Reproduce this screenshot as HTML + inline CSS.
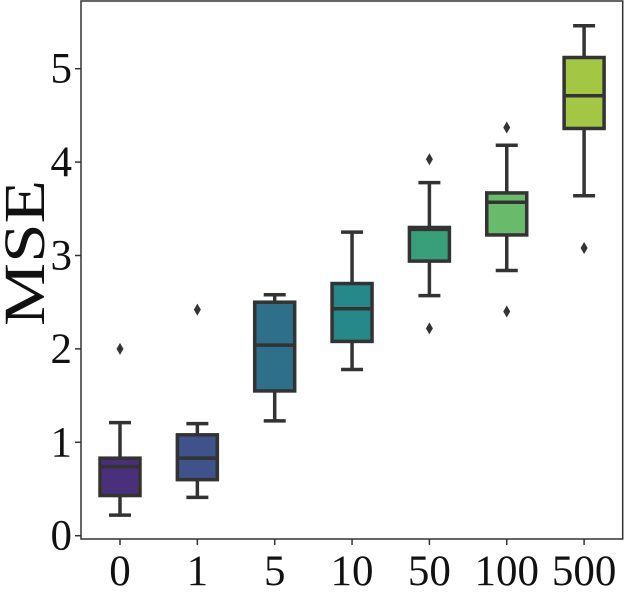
<!DOCTYPE html>
<html><head><meta charset="utf-8"><style>
html,body{margin:0;padding:0;background:#fff;}
svg text{font-family:"Liberation Serif","DejaVu Serif",serif;fill:#111;}
</style></head><body>
<svg id="chart" width="633" height="590" xmlns="http://www.w3.org/2000/svg">
<g id="plot"></g>
</svg>
<script>
const categories = ["0","1","5","10","50","100","500"];
const whiskerLow = [0.22,0.41,1.23,1.78,2.57,2.84,3.64];
const q1 = [0.43,0.60,1.55,2.08,2.94,3.22,4.36];
const medians = [0.74,0.83,2.04,2.43,3.28,3.57,4.71];
const q3 = [0.83,1.08,2.50,2.70,3.30,3.67,5.12];
const whiskerHigh = [1.21,1.20,2.58,3.25,3.78,4.18,5.46];
const outliers = [[2.0],[2.42],[],[],[4.03,2.22],[4.37,2.40],[3.08]];
const colors = ["#4a2f7a","#3f5289","#2e6f8a","#27888a","#389f7a","#69bb6b","#a3c644"];
const yTicks = [0,1,2,3,4,5];

const NS="http://www.w3.org/2000/svg";
const g=document.getElementById('plot');
const y=v=>535.7-v*93.4;
const x=i=>120+i*77.35;
const stroke="#333";
function mk(t,a){const e=document.createElementNS(NS,t);for(const k in a)e.setAttribute(k,a[k]);g.appendChild(e);return e;}

const fr=mk('rect',{x:81,y:1,width:541.7,height:538,fill:'none',stroke:'#333','stroke-width':1.5});



yTicks.forEach(t=>{
  const l=mk('line',{x1:75,x2:81,y1:y(t),y2:y(t),stroke:'#333','stroke-width':1.5});
  
  
  const tx=mk('text',{x:72,y:y(t)+14,'text-anchor':'end','font-size':43});
  tx.textContent=t;
  
  
});
categories.forEach((c,i)=>{
  const cx=x(i);
  const l=mk('line',{x1:cx,x2:cx,y1:539,y2:545,stroke:'#333','stroke-width':1.5});
  
  
  const tx=mk('text',{x:cx,y:585,'text-anchor':'middle','font-size':43});
  tx.textContent=c;
  
  

  const w1=mk('line',{x1:cx,x2:cx,y1:y(whiskerLow[i]),y2:y(q1[i]),stroke:stroke,'stroke-width':3.5});
  
  
  const w2=mk('line',{x1:cx,x2:cx,y1:y(q3[i]),y2:y(whiskerHigh[i]),stroke:stroke,'stroke-width':3.5});
  
  
  [whiskerLow[i],whiskerHigh[i]].forEach((v,k)=>{
    const cap=mk('line',{x1:cx-11,x2:cx+11,y1:y(v),y2:y(v),stroke:stroke,'stroke-width':3.5});
    
    
  });
  const b=mk('rect',{x:cx-20,y:y(q3[i]),width:40,height:y(q1[i])-y(q3[i]),fill:colors[i],stroke:stroke,'stroke-width':3.5});
  
  
  const m=mk('line',{x1:cx-20,x2:cx+20,y1:y(medians[i]),y2:y(medians[i]),stroke:stroke,'stroke-width':3.5});
  
  
  outliers[i].forEach(v=>{
    const py=y(v);
    const o=mk('polygon',{points:`${cx},${py-6} ${cx+3.5},${py} ${cx},${py+6} ${cx-3.5},${py}`,fill:stroke});
    
    
  });
});
const yl=mk('text',{x:0,y:0,'text-anchor':'middle','font-size':58,'textLength':146,'lengthAdjust':'spacingAndGlyphs',transform:'translate(44,253) rotate(-90)'});
yl.textContent='MSE';


</script>
</body></html>
